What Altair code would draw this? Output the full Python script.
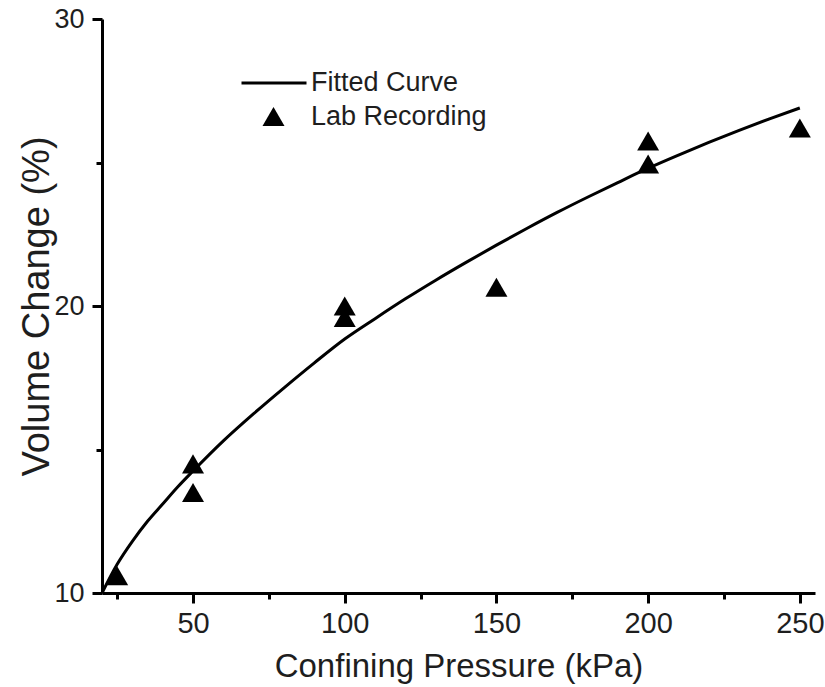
import altair as alt
import pandas as pd

# Lab recordings
press_pts = [25, 50, 50, 100, 100, 150, 200, 200, 250]
vol_pts = [10.6, 14.5, 13.5, 20.0, 19.6, 20.65, 25.75, 24.95, 26.2]

# Fitted curve
curve_x = [20, 25, 30, 35, 40, 45, 50, 60, 70, 80, 90, 100, 110, 120, 130,
           140, 150, 160, 170, 180, 190, 200, 210, 220, 230, 240, 250]
curve_y = [10.0, 11.0, 11.8, 12.5, 13.1, 13.7, 14.25, 15.3, 16.25, 17.15, 18.02,
           18.85, 19.56, 20.25, 20.9, 21.52, 22.12, 22.7, 23.26, 23.79, 24.3,
           24.8, 25.26, 25.7, 26.12, 26.52, 26.9]

series_names = ["Fitted Curve", "Lab Recording"]

pts = pd.DataFrame({"x": press_pts, "y": vol_pts, "series": series_names[1]})
crv = pd.DataFrame({"x": curve_x, "y": curve_y, "series": series_names[0]})

FONT = "Liberation Sans"
TXT = "#1e1e1e"

xscale = alt.Scale(domain=[20, 255], nice=False, zero=False)
yscale = alt.Scale(domain=[10, 30], nice=False, zero=False)

xaxis = alt.Axis(
    title="Confining Pressure (kPa)",
    values=[25, 50, 75, 100, 125, 150, 175, 200, 225, 250],
    labelExpr="datum.value % 50 === 0 ? datum.label : ''",
    grid=False,
    tickSize={"condition": {"test": "datum.value % 50 === 0", "value": 10}, "value": 6},
    labelPadding=6,
    labelFontSize=29,
    titleFontSize=33,
    titlePadding=12,
)
yaxis = alt.Axis(
    title="Volume Change (%)",
    values=[10, 15, 20, 25, 30],
    labelExpr="datum.value % 10 === 0 ? datum.label : ''",
    grid=False,
    tickSize={"condition": {"test": "datum.value % 10 === 0", "value": 10}, "value": 6},
    labelPadding=8,
    labelFontSize=27,
    titleFontSize=38,
    titlePadding=-3,
)

common_legend = dict(
    title=None,
    orient="none",
    labelFont=FONT,
    labelFontSize=27,
    labelColor=TXT,
    labelLimit=400,
    padding=0,
)

line_legend = alt.Legend(
    legendX=138,
    legendY=30,
    labelOffset=3,
    symbolType="stroke",
    symbolSize=4225,
    symbolStrokeWidth=3,
    symbolStrokeColor="black",
    **common_legend,
)

point_legend = alt.Legend(
    legendX=158,
    legendY=84,
    labelOffset=24,
    symbolSize=484,
    symbolFillColor="black",
    symbolStrokeWidth=0,
    **common_legend,
)

line = alt.Chart(crv).mark_line(strokeWidth=3, interpolate="monotone").encode(
    x=alt.X("x:Q", scale=xscale, axis=xaxis),
    y=alt.Y("y:Q", scale=yscale, axis=yaxis),
    color=alt.Color("series:N", scale=alt.Scale(domain=[series_names[0]], range=["black"]), legend=line_legend),
)

points = alt.Chart(pts).mark_point(filled=True, color="black", opacity=1, size=484).encode(
    x=alt.X("x:Q", scale=xscale, axis=xaxis),
    y=alt.Y("y:Q", scale=yscale, axis=yaxis),
    shape=alt.Shape("series:N", scale=alt.Scale(domain=[series_names[1]], range=["triangle-up"]), legend=point_legend),
)

chart = alt.layer(line, points).properties(
    width=713,
    height=574,
    autosize=alt.AutoSizeParams(type="none"),
    padding={"left": 102, "top": 19, "right": 10, "bottom": 94},
    background="white",
).configure_view(stroke=None).configure_axis(
    domainColor="black",
    domainWidth=3,
    tickColor="black",
    tickWidth=3,
    labelFont=FONT,
    labelColor=TXT,
    titleFont=FONT,
    titleFontWeight="normal",
    titleColor=TXT,
)

chart.save("out.html", embed_options={"renderer": "svg", "actions": False})
